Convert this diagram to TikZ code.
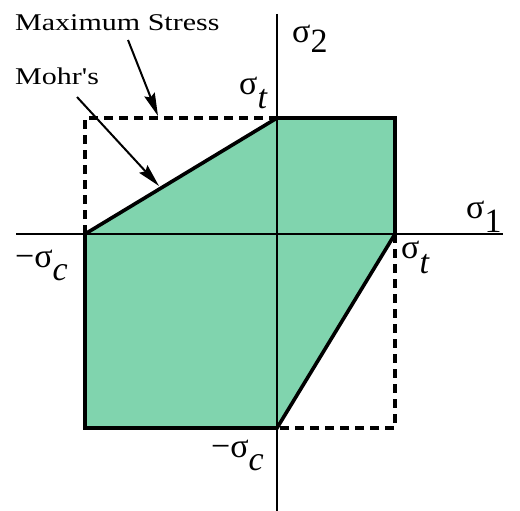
\documentclass[tikz,border=0pt]{standalone}
\usepackage{fontspec}
\setmainfont{Liberation Serif}
\usepackage{xcolor}
\usetikzlibrary{arrows.meta}
\definecolor{safegreen}{RGB}{128,212,174}
\newcommand{\sigsub}[2]{σ\raisebox{-#1pt}{#2}}

\begin{document}
\begin{tikzpicture}[x=1pt,y=-1pt,line join=miter,
  txtlbl/.style={font=\fontsize{24}{24}\selectfont,xscale=1.25,inner sep=0pt,anchor=west},
  siglbl/.style={font=\fontsize{34}{34}\selectfont,inner sep=0pt,anchor=base west},
  rim/.style={line width=3.6pt},
  maxline/.style={line width=3.2pt,dash pattern=on 9pt off 6pt},
  ptr/.style={line width=2pt,-{Stealth[length=23pt,width=11pt,inset=3pt]}}]
\useasboundingbox (0,0) rectangle (520,511);
% corners of the two envelopes
\coordinate (cl) at (85,234); \coordinate (ctl) at (85,118); \coordinate (ct) at (277,118);
\coordinate (ctr) at (395,118); \coordinate (cr) at (395,234); \coordinate (cbr) at (395,428);
\coordinate (cb) at (277,428); \coordinate (cbl) at (85,428);
\filldraw[fill=safegreen,rim] (cl) -- (ct) -- (ctr) -- (cr) -- (cb) -- (cbl) -- cycle;
\draw[maxline] (cl) -- (ctl) -- (ct) (cr) -- (cbr) -- (cb);
% axes
\coordinate (xa) at (16,234); \coordinate (xb) at (503,234);
\coordinate (ya) at (277,14); \coordinate (yb) at (277,511);
\draw[line width=1.3pt] (xa) -- (xb) (ya) -- (yb);
% labels
\foreach \nm/\px/\py/\txt in {s2/292/43/{\sigsub{10}{2}},s1/466/218/{\sigsub{14}{1}},
  stt/239/95/{\sigsub{14}{\itshape t}},str/401/258/{\sigsub{15}{\itshape t}},
  scl/15/267/{−\sigsub{13}{\itshape c}},scb/211/457/{−\sigsub{13}{\itshape c}}}
  \node[siglbl] (\nm) at (\px,\py) {\txt};
\node[txtlbl] (maxs) at (15,23) {Maximum Stress};
\node[txtlbl] (mohr) at (15,76) {Mohr\textquotesingle s};
\coordinate (ms0) at (128,40); \coordinate (ms1) at (158,116);
\coordinate (mo0) at (77,97); \coordinate (mo1) at (159,186);
\draw[ptr] (ms0) -- (ms1);
\draw[ptr] (mo0) -- (mo1);
\end{tikzpicture}
\end{document}
